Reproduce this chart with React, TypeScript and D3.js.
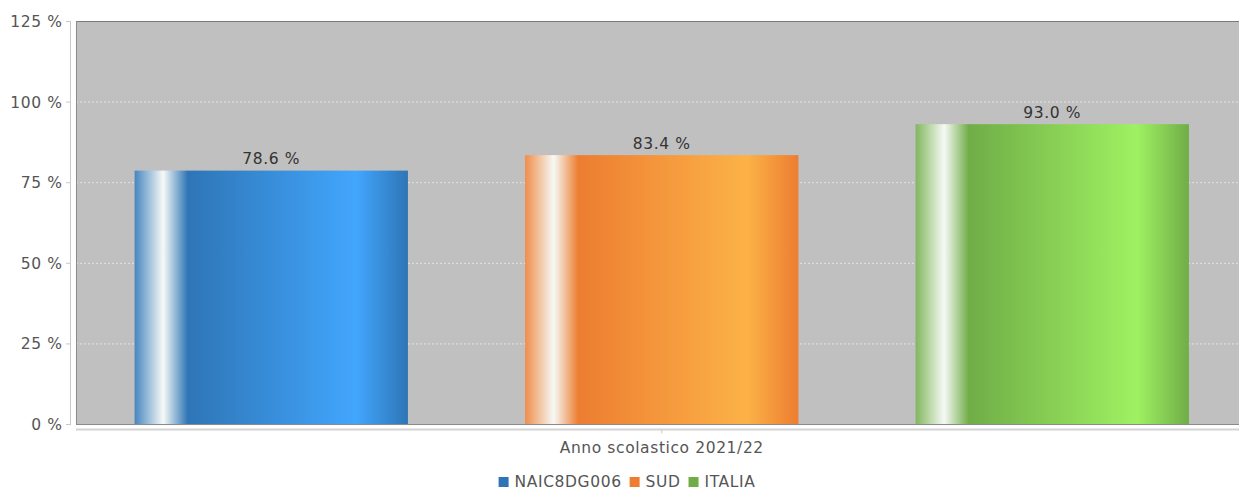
import React, { useEffect, useRef } from "react";
import * as d3 from "d3";

const seriesNames = ["NAIC8DG006", "SUD", "ITALIA"];
const seriesValues = [78.6, 83.4, 93.0];
const baseColors = ["#2e75b6", "#ed7d31", "#70ad47"];
const lightColors = ["#42a6fd", "#fcb247", "#9ff162"];
const yTicks = [0, 25, 50, 75, 100, 125];
const categoryLabel = "Anno scolastico 2021/22";

const W = 1239;
const H = 491;
const FONT = "'DejaVu Sans', sans-serif";
const FS = 15.5;
const LS = 0.6;

export default function App() {
  const ref = useRef<SVGSVGElement | null>(null);

  useEffect(() => {
    const svg = d3.select(ref.current);
    svg.selectAll("*").remove();

    const left = 76;
    const top = 21;
    const bottom = 424;
    const right = 1247.5;

    const y = d3.scaleLinear().domain([0, 125]).range([bottom, top]);
    const x = d3
      .scaleBand<string>()
      .domain(seriesNames)
      .range([left, right])
      .paddingInner(0.3)
      .paddingOuter(0.15);

    const defs = svg.append("defs");
    seriesNames.forEach((s, i) => {
      const g = defs
        .append("linearGradient")
        .attr("id", `grad${i}`)
        .attr("x1", "0")
        .attr("x2", "1")
        .attr("y1", "0")
        .attr("y2", "0");
      const base = d3.color(baseColors[i])!;
      const edge = d3.interpolateRgb(baseColors[i], "#ffffff")(0.12);
      g.append("stop").attr("offset", "0").attr("stop-color", edge);
      g.append("stop").attr("offset", "0.105").attr("stop-color", "#f6f9f6");
      g.append("stop").attr("offset", "0.195").attr("stop-color", base.formatHex());
      g.append("stop").attr("offset", "0.81").attr("stop-color", lightColors[i]);
      g.append("stop").attr("offset", "1").attr("stop-color", base.formatHex());
    });

    svg
      .append("rect")
      .attr("x", left)
      .attr("y", top)
      .attr("width", right - left)
      .attr("height", bottom - top)
      .attr("fill", "#c0c0c0");

    svg
      .append("g")
      .selectAll("line")
      .data(yTicks.filter((t) => t > 0 && t < 125))
      .join("line")
      .attr("x1", left)
      .attr("x2", right)
      .attr("y1", (d) => y(d) + 0.5)
      .attr("y2", (d) => y(d) + 0.5)
      .attr("stroke", "#e4e4e4")
      .attr("stroke-width", 1)
      .attr("stroke-dasharray", "2,2");

    svg
      .append("line")
      .attr("x1", left)
      .attr("x2", right)
      .attr("y1", top + 0.5)
      .attr("y2", top + 0.5)
      .attr("stroke", "#7a7a7a");
    svg
      .append("line")
      .attr("x1", left + 0.5)
      .attr("x2", left + 0.5)
      .attr("y1", top)
      .attr("y2", bottom)
      .attr("stroke", "#8a8a8a");
    svg
      .append("line")
      .attr("x1", left)
      .attr("x2", right)
      .attr("y1", bottom + 0.5)
      .attr("y2", bottom + 0.5)
      .attr("stroke", "#8a8a8a");

    svg
      .append("g")
      .selectAll("rect")
      .data(seriesNames)
      .join("rect")
      .attr("x", (d) => x(d)!)
      .attr("y", (_, i) => y(seriesValues[i]))
      .attr("width", x.bandwidth())
      .attr("height", (_, i) => bottom - y(seriesValues[i]))
      .attr("fill", (_, i) => `url(#grad${i})`);

    svg
      .append("g")
      .selectAll("text")
      .data(seriesNames)
      .join("text")
      .attr("x", (d) => x(d)! + x.bandwidth() / 2)
      .attr("y", (_, i) => y(seriesValues[i]) - 6.5)
      .attr("text-anchor", "middle")
      .attr("font-family", FONT)
      .attr("font-size", FS)
      .attr("letter-spacing", LS)
      .attr("fill", "#333")
      .text((_, i) => `${seriesValues[i].toFixed(1)} %`);

    const yAxisX = 70;
    svg
      .append("line")
      .attr("x1", yAxisX + 0.5)
      .attr("x2", yAxisX + 0.5)
      .attr("y1", top)
      .attr("y2", bottom + 1)
      .attr("stroke", "#c8c8c8");
    const yt = svg.append("g");
    yt.selectAll("line")
      .data(yTicks)
      .join("line")
      .attr("x1", yAxisX - 4)
      .attr("x2", yAxisX)
      .attr("y1", (d) => y(d) + 0.5)
      .attr("y2", (d) => y(d) + 0.5)
      .attr("stroke", "#c8c8c8");
    yt.selectAll("text")
      .data(yTicks)
      .join("text")
      .attr("x", 62.5)
      .attr("y", (d) => y(d) + 6)
      .attr("text-anchor", "end")
      .attr("font-family", FONT)
      .attr("font-size", FS)
      .attr("letter-spacing", LS)
      .attr("fill", "#555")
      .text((d) => `${d} %`);

    const xAxisY = 429.5;
    svg
      .append("line")
      .attr("x1", left)
      .attr("x2", right)
      .attr("y1", xAxisY)
      .attr("y2", xAxisY)
      .attr("stroke", "#d4d4d4")
      .attr("stroke-width", 2);
    const cx = (left + right) / 2;
    svg
      .append("line")
      .attr("x1", cx)
      .attr("x2", cx)
      .attr("y1", xAxisY)
      .attr("y2", xAxisY + 4)
      .attr("stroke", "#c8c8c8");
    svg
      .append("text")
      .attr("x", cx)
      .attr("y", 453)
      .attr("text-anchor", "middle")
      .attr("font-family", FONT)
      .attr("font-size", FS)
      .attr("letter-spacing", LS)
      .attr("fill", "#555")
      .text(categoryLabel);

    const lg = svg.append("g");
    const items = seriesNames.map((s, i) => {
      const t = lg
        .append("text")
        .attr("font-family", FONT)
        .attr("font-size", FS)
        .attr("letter-spacing", LS)
        .attr("fill", "#555")
        .attr("y", 487)
        .text(s);
      const w = (t.node() as SVGTextElement).getComputedTextLength();
      const r = lg
        .append("rect")
        .attr("width", 10)
        .attr("height", 10)
        .attr("y", 477)
        .attr("fill", baseColors[i]);
      return { t, r, w };
    });
    const sq = 10;
    const gap1 = 6;
    const gap2 = 8;
    const total =
      items.reduce((a, it) => a + sq + gap1 + it.w, 0) + gap2 * (items.length - 1);
    let cur = 627 - total / 2;
    items.forEach((it) => {
      it.r.attr("x", cur);
      it.t.attr("x", cur + sq + gap1);
      cur += sq + gap1 + it.w + gap2;
    });
  }, []);

  return (
    <svg
      ref={ref}
      width={W}
      height={H}
      style={{ position: "absolute", left: 0, top: 0, background: "#fff" }}
    />
  );
}
